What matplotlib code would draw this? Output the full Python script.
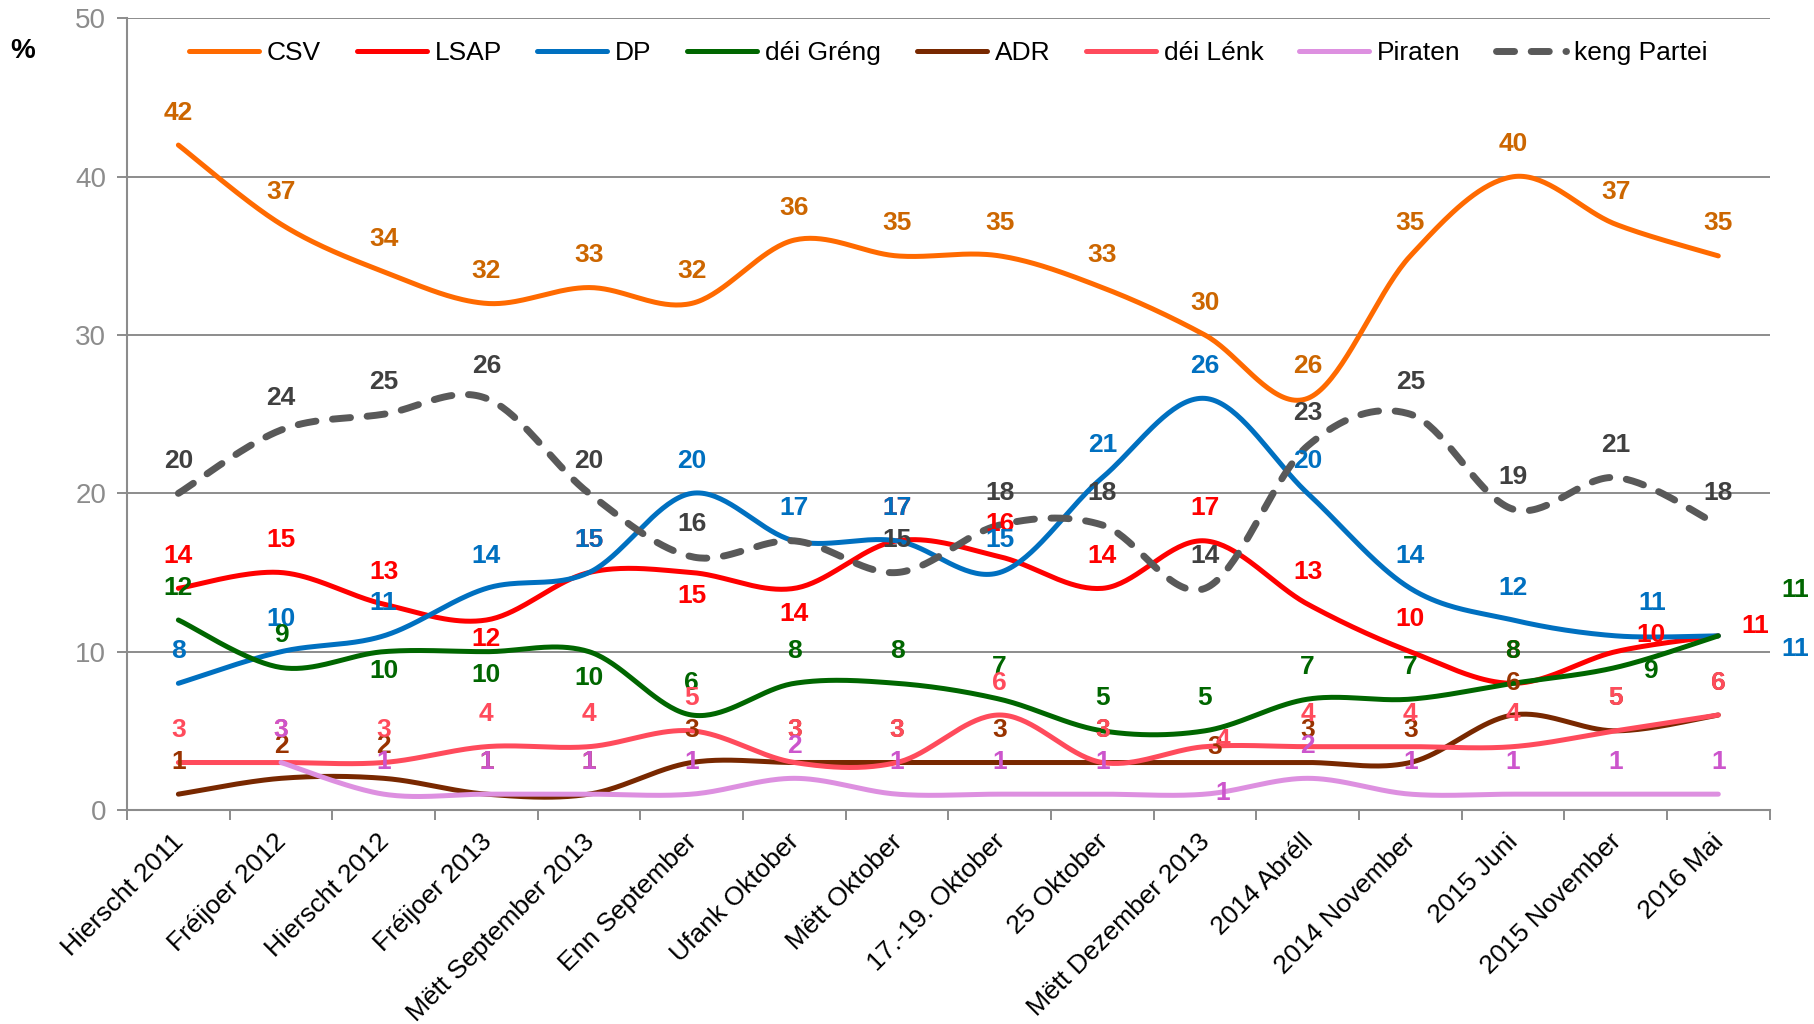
import matplotlib
matplotlib.use("Agg")
import matplotlib.pyplot as plt
import numpy as np
from matplotlib.transforms import ScaledTranslation

plt.rcParams['font.family'] = ['Liberation Sans', 'DejaVu Sans']

categories = ["Hierscht 2011", "Fréijoer 2012", "Hierscht 2012", "Fréijoer 2013",
              "Mëtt September 2013", "Enn September", "Ufank Oktober", "Mëtt Oktober",
              "17.-19. Oktober", "25 Oktober", "Mëtt Dezember 2013", "2014 Abréll",
              "2014 November", "2015 Juni", "2015 November", "2016 Mai"]

csv = [42, 37, 34, 32, 33, 32, 36, 35, 35, 33, 30, 26, 35, 40, 37, 35]
lsap = [14, 15, 13, 12, 15, 15, 14, 17, 16, 14, 17, 13, 10, 8, 10, 11]
dp = [8, 10, 11, 14, 15, 20, 17, 17, 15, 21, 26, 20, 14, 12, 11, 11]
greng = [12, 9, 10, 10, 10, 6, 8, 8, 7, 5, 5, 7, 7, 8, 9, 11]
adr = [1, 2, 2, 1, 1, 3, 3, 3, 3, 3, 3, 3, 3, 6, 5, 6]
lenk = [3, 3, 3, 4, 4, 5, 3, 3, 6, 3, 4, 4, 4, 4, 5, 6]
piraten = [None, 3, 1, 1, 1, 1, 2, 1, 1, 1, 1, 2, 1, 1, 1, 1]
keng = [20, 24, 25, 26, 20, 16, 17, 15, 18, 18, 14, 23, 25, 19, 21, 18]

# label placement (data units): dy above/below point, dx sideways
A = 2.05
csv_dy = [A] * 16
lsap_dy = [A, A, A, -1.2, A, -1.5, -1.6, A, A, A, A, A, A, A, 1.05, 0.6]
dp_dy = [A] * 15 + [-0.8]
greng_dy = [A, A, -1.25, -1.45, -1.65, A, A, A, A, A, A, A, A, A, -0.25, 2.9]
adr_dy = [A, A, A, A, A, A, A, A, A, A, 1.0, A, A, A, A, A]
lenk_dy = [A, A, A, A, A, A, A, A, A, A, 0.45, A, A, A, A, A]
piraten_dy = [None, A, A, A, A, A, A, A, A, A, 0.07, A, A, A, A, A]
keng_dy = [A, A, A, A, A, A, None, A, A, A, A, A, A, A, A, A]

lsap_dx = {14: 0.34, 15: 0.36}
dp_dx = {14: 0.36, 15: 0.75}
greng_dx = {14: 0.34, 15: 0.75}
adr_dx = {10: 0.09}
lenk_dx = {10: 0.17}
piraten_dx = {10: 0.17}

series = [
    ("CSV", csv, "#FF6A00", "#CC6600", csv_dy, {}),
    ("LSAP", lsap, "#FF0000", "#FF0000", lsap_dy, lsap_dx),
    ("DP", dp, "#0070C0", "#0070C0", dp_dy, dp_dx),
    ("déi Gréng", greng, "#006600", "#006600", greng_dy, greng_dx),
    ("ADR", adr, "#782800", "#993300", adr_dy, adr_dx),
    ("déi Lénk", lenk, "#FF4B5C", "#FF4B5C", lenk_dy, lenk_dx),
    ("Piraten", piraten, "#DD90E0", "#CC55CC", piraten_dy, piraten_dx),
    ("keng Partei", keng, "#595959", "#404040", keng_dy, {}),
]


def smooth(xs, ys, n=40):
    # bezier smoothing through the points, like a spreadsheet "smoothed line"
    pts = np.column_stack([xs, ys]).astype(float)
    out = []
    for i in range(len(pts) - 1):
        p0 = pts[i - 1] if i > 0 else pts[i]
        p1 = pts[i]
        p2 = pts[i + 1]
        p3 = pts[i + 2] if i + 2 < len(pts) else pts[i + 1]
        c1 = p1 + (p2 - p0) / 6
        c2 = p2 - (p3 - p1) / 6
        t = np.linspace(0, 1, n)[:, None]
        seg = (1 - t) ** 3 * p1 + 3 * (1 - t) ** 2 * t * c1 + 3 * (1 - t) * t ** 2 * c2 + t ** 3 * p2
        out.append(seg if i == 0 else seg[1:])
    return np.vstack(out)


fig = plt.figure(figsize=(18.15, 10.24), dpi=100)
ax = fig.add_axes([0.070, 0.209, 0.905, 0.773])

handles = []
for name, vals, col, lcol, dys, dxs in series:
    idx = [i for i, v in enumerate(vals) if v is not None]
    xs = np.array(idx)
    ys = np.array([vals[i] for i in idx])
    curve = smooth(xs, ys)
    if name == "keng Partei":
        ln, = ax.plot(curve[:, 0], curve[:, 1], color=col, lw=5, dashes=(2.6, 2.4),
                      dash_capstyle='round', solid_capstyle='round', zorder=4, label=name)
    else:
        ln, = ax.plot(curve[:, 0], curve[:, 1], color=col, lw=3.6,
                      solid_capstyle='round', zorder=3, label=name)
    handles.append(ln)

for name, vals, col, lcol, dys, dxs in series:
    for i, v in enumerate(vals):
        if v is None or dys[i] is None:
            continue
        ax.text(i + dxs.get(i, 0), v + dys[i], str(v), color=lcol, fontsize=19,
                fontweight='bold', ha='center', va='center', zorder=6, clip_on=False)

ax.set_xlim(-0.5, 15.5)
ax.set_ylim(0, 50)
ax.set_yticks(range(0, 51, 10))
ax.grid(axis='y', color='#8C8C8C', lw=1.4)
ax.set_axisbelow(True)
for s in ['top', 'right']:
    ax.spines[s].set_visible(False)
for s in ['left', 'bottom']:
    ax.spines[s].set_color('#8C8C8C')
    ax.spines[s].set_linewidth(1.5)

ax.tick_params(axis='y', colors='#8C8C8C', labelsize=20, length=7, width=1.4, pad=8,
               labelcolor='#8C8C8C')
ax.set_xticks(range(len(categories)))
ax.set_xticklabels(categories, rotation=45, ha='right', rotation_mode='anchor',
                   fontsize=19, color='black')
ax.set_xticks(np.arange(-0.5, 16, 1), minor=True)
ax.tick_params(axis='x', which='major', length=0, pad=0)
ax.tick_params(axis='x', which='minor', length=7, width=1.4, color='#8C8C8C')
offset = ScaledTranslation(-5 / 72, -14 / 72, fig.dpi_scale_trans)
for lab in ax.get_xticklabels():
    lab.set_transform(lab.get_transform() + offset)

ax.legend(handles=handles, loc='center', bbox_to_anchor=(0.5, 0.956), ncol=8,
          frameon=False, fontsize=19, handlelength=2.65, handletextpad=0.3,
          columnspacing=1.35)

fig.text(23 / 1815, 1 - 51 / 1024, '%', fontsize=20, fontweight='bold', ha='center', va='center')

fig.savefig('out.png', dpi=100)
